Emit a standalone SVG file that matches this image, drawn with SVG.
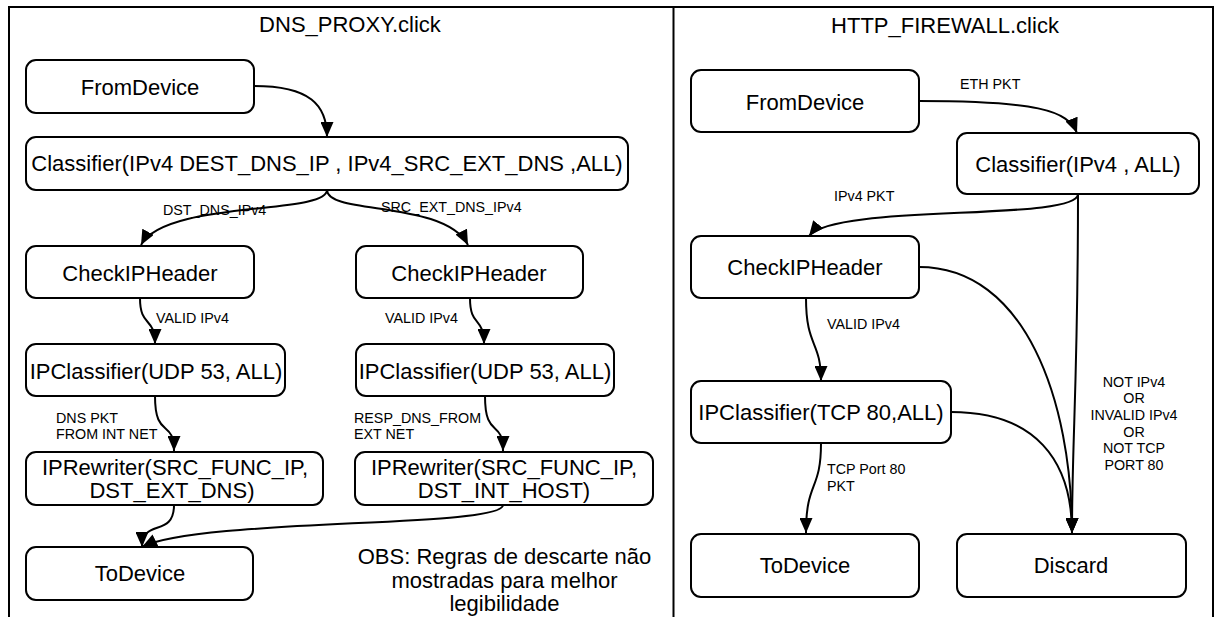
<svg xmlns="http://www.w3.org/2000/svg" width="1216" height="617" viewBox="0 0 1216 617">
<style>
  .frame{fill:none;stroke:#000;stroke-width:2}
  .node{fill:#fff;stroke:#000;stroke-width:2}
  .t{font-family:"Liberation Sans",Arial,sans-serif;font-size:22px;fill:#000;text-anchor:middle}
  .title{font-family:"Liberation Sans",Arial,sans-serif;font-size:22px;fill:#000;text-anchor:middle}
  .lbl{font-family:"Liberation Sans",Arial,sans-serif;font-size:14.3px;fill:#000}
  .c{fill:none;stroke:#000;stroke-width:2;marker-end:url(#arr)}
</style>
<defs>
  <marker id="arr" viewBox="0 0 15 13" refX="15" refY="6.5" markerWidth="15" markerHeight="13" orient="auto" markerUnits="userSpaceOnUse">
    <path d="M0,0 L15,6.5 L0,13 Z" fill="#000"/>
  </marker>
</defs>
<rect width="1216" height="617" fill="#fff"/>
<g id="frame">
  <path class="frame" d="M9,618 L9,7 L1213,7 L1213,618 M673.5,7 L673.5,618"/>
  <text class="title" x="350" y="32">DNS_PROXY.click</text>
  <text class="title" x="945" y="33">HTTP_FIREWALL.click</text>
  <text class="t" x="504.5" y="564">OBS: Regras de descarte não</text>
  <text class="t" x="504.5" y="588">mostradas para melhor</text>
  <text class="t" x="504.5" y="611">legibilidade</text>
</g>
<g id="connectors">
  <path class="c" d="M254,86 C310,86 327,105 327,137"/>
  <path class="c" d="M327,190 C327,215 165,200 141,245"/>
  <path class="c" d="M327,190 C327,215 445,200 468,245"/>
  <path class="c" d="M140,298 C140,328 155,316 155,344"/>
  <path class="c" d="M470,298 C470,328 484,316 484,344"/>
  <path class="c" d="M155,396 C155,440 174,418 174,451"/>
  <path class="c" d="M485,396 C485,440 503,418 503,451"/>
  <path class="c" d="M174,505 C174,538 142,518 142,547"/>
  <path class="c" d="M503,505 C503,528 200,518 142,547"/>
  <path class="c" d="M919,101 C1035,101 1068,110 1077,133"/>
  <path class="c" d="M1078,194 C1078,222 835,203 809,236"/>
  <path class="c" d="M1078,194 C1078,380 1072,440 1072,533"/>
  <path class="c" d="M919,267 C1025,267 1072,400 1072,533"/>
  <path class="c" d="M951,412 C1035,412 1072,460 1072,533"/>
  <path class="c" d="M806,298 C806,348 821,340 821,381"/>
  <path class="c" d="M821,443 C821,492 806,480 806,533"/>
  <text class="lbl" x="163" y="215">DST_DNS_IPv4</text>
  <text class="lbl" x="381" y="212">SRC_EXT_DNS_IPv4</text>
  <text class="lbl" x="156" y="323">VALID IPv4</text>
  <text class="lbl" x="385" y="323">VALID IPv4</text>
  <text class="lbl" x="56" y="423">DNS PKT</text>
  <text class="lbl" x="56" y="439">FROM INT NET</text>
  <text class="lbl" x="354" y="423">RESP_DNS_FROM</text>
  <text class="lbl" x="354" y="439">EXT NET</text>
  <text class="lbl" x="960" y="89">ETH PKT</text>
  <text class="lbl" x="834" y="201">IPv4 PKT</text>
  <text class="lbl" x="827" y="329">VALID IPv4</text>
  <text class="lbl" x="827" y="474">TCP Port 80</text>
  <text class="lbl" x="827" y="491">PKT</text>
  <text class="lbl" x="1134" y="387" text-anchor="middle">NOT IPv4</text>
  <text class="lbl" x="1134" y="403" text-anchor="middle">OR</text>
  <text class="lbl" x="1134" y="420" text-anchor="middle">INVALID IPv4</text>
  <text class="lbl" x="1134" y="437" text-anchor="middle">OR</text>
  <text class="lbl" x="1134" y="453" text-anchor="middle">NOT TCP</text>
  <text class="lbl" x="1134" y="470" text-anchor="middle">PORT 80</text>
</g>
<g id="dns_fromdevice"><rect class="node" x="26" y="60" width="228" height="53" rx="10"/><text class="t" x="140" y="95">FromDevice</text></g>
<g id="dns_classifier"><rect class="node" x="26" y="137" width="602" height="53" rx="10"/><text class="t" x="327" y="171">Classifier(IPv4 DEST_DNS_IP , IPv4_SRC_EXT_DNS ,ALL)</text></g>
<g id="dns_checkip_l"><rect class="node" x="26" y="246" width="228" height="52" rx="10"/><text class="t" x="140" y="281">CheckIPHeader</text></g>
<g id="dns_checkip_r"><rect class="node" x="356" y="246" width="227" height="52" rx="10"/><text class="t" x="469" y="281">CheckIPHeader</text></g>
<g id="dns_ipclass_l"><rect class="node" x="26" y="344" width="259" height="52" rx="10"/><text class="t" x="156" y="379">IPClassifier(UDP 53, ALL)</text></g>
<g id="dns_ipclass_r"><rect class="node" x="356" y="344" width="258" height="52" rx="10"/><text class="t" x="485" y="379">IPClassifier(UDP 53, ALL)</text></g>
<g id="dns_iprw_l"><rect class="node" x="26" y="452" width="297" height="53" rx="10"/><text class="t" x="175" y="475">IPRewriter(SRC_FUNC_IP,</text><text class="t" x="172" y="498">DST_EXT_DNS)</text></g>
<g id="dns_iprw_r"><rect class="node" x="355" y="452" width="298" height="53" rx="10"/><text class="t" x="504" y="475">IPRewriter(SRC_FUNC_IP,</text><text class="t" x="504" y="498">DST_INT_HOST)</text></g>
<g id="dns_todevice"><rect class="node" x="26" y="547" width="227" height="53" rx="10"/><text class="t" x="140" y="581">ToDevice</text></g>
<g id="fw_fromdevice"><rect class="node" x="691" y="70" width="228" height="62" rx="10"/><text class="t" x="805" y="110">FromDevice</text></g>
<g id="fw_classifier"><rect class="node" x="957" y="133" width="242" height="61" rx="10"/><text class="t" x="1078" y="172">Classifier(IPv4 , ALL)</text></g>
<g id="fw_checkip"><rect class="node" x="691" y="236" width="228" height="62" rx="10"/><text class="t" x="805" y="275">CheckIPHeader</text></g>
<g id="fw_ipclass"><rect class="node" x="691" y="381" width="260" height="62" rx="10"/><text class="t" x="821" y="420">IPClassifier(TCP 80,ALL)</text></g>
<g id="fw_todevice"><rect class="node" x="691" y="534" width="228" height="63" rx="10"/><text class="t" x="805" y="573">ToDevice</text></g>
<g id="fw_discard"><rect class="node" x="957" y="534" width="229" height="63" rx="10"/><text class="t" x="1071" y="573">Discard</text></g>
</svg>
